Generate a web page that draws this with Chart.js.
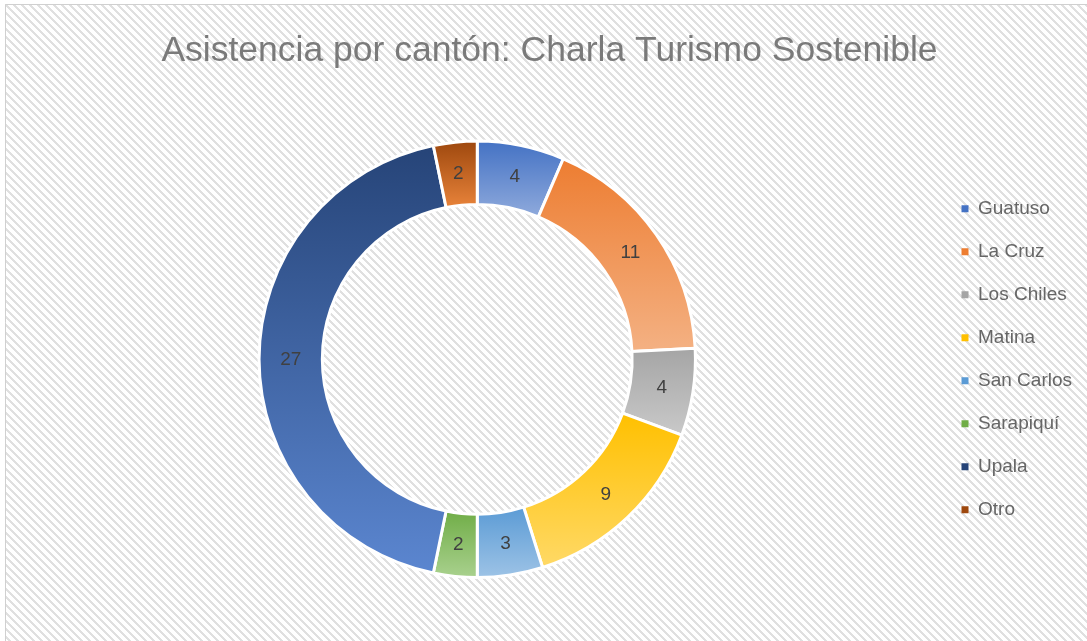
<!DOCTYPE html>
<html>
<head>
<meta charset="utf-8">
<title>Asistencia por cantón</title>
<script src="https://cdn.jsdelivr.net/npm/chart.js@4"></script>
<style>
  html, body { margin: 0; padding: 0; background: #fff; }
  #wrap { width: 1087px; height: 641px; position: relative; }
</style>
</head>
<body>
<div id="wrap"><canvas id="donut"></canvas></div>
<script>
// data
const cantones = ['Guatuso', 'La Cruz', 'Los Chiles', 'Matina', 'San Carlos', 'Sarapiquí', 'Upala', 'Otro'];
const asistentes = [4, 11, 4, 9, 3, 2, 27, 2];

// base colour (top of each slice) and the lighter one it fades to (bottom)
const baseColors = ['#4472C4', '#ED7D31', '#A5A5A5', '#FFC000', '#5B9BD5', '#70AD47', '#264478', '#9E480E'];
const lightColors = ['#8FAADC', '#F4B183', '#C9C9C9', '#FFD966', '#9DC3E6', '#A9D18E', '#5B86D0', '#E8833A'];

const FONT = "'Liberation Sans', Arial, sans-serif";

// hatched background + thin frame like the excel chart area
const hatchBackground = {
    id: 'hatchBackground',
    beforeDraw(chart) {
        const ctx = chart.ctx;
        const pat = document.createElement('canvas');
        pat.width = 8; pat.height = 8;
        const pctx = pat.getContext('2d');
        pctx.fillStyle = '#ffffff';
        pctx.fillRect(0, 0, 8, 8);
        pctx.fillStyle = '#e0e0e0';
        for (let y = 0; y < 8; y++) {
            for (let x = 0; x < 8; x++) {
                const d = ((x - y) % 8 + 8) % 8;
                if (d < 3) pctx.fillRect(x, y, 1, 1);
            }
        }
        ctx.save();
        ctx.fillStyle = '#ffffff';
        ctx.fillRect(0, 0, chart.width, chart.height);
        ctx.fillStyle = ctx.createPattern(pat, 'repeat');
        ctx.fillRect(5, 4, chart.width - 5, chart.height - 4);
        ctx.strokeStyle = '#d0d0d0';
        ctx.lineWidth = 1;
        ctx.beginPath();
        ctx.moveTo(5.5, chart.height);
        ctx.lineTo(5.5, 4.5);
        ctx.lineTo(chart.width, 4.5);
        ctx.stroke();
        ctx.restore();
    }
};

// each slice gets its own vertical gradient over its own height
const sliceGradients = {
    id: 'sliceGradients',
    beforeDatasetsDraw(chart) {
        const ctx = chart.ctx;
        const meta = chart.getDatasetMeta(0);
        meta.data.forEach((arc, i) => {
            const p = arc.getProps(['x', 'y', 'startAngle', 'endAngle', 'innerRadius', 'outerRadius']);
            let ymin = Infinity, ymax = -Infinity;
            const steps = 60;
            for (let s = 0; s <= steps; s++) {
                const a = p.startAngle + (p.endAngle - p.startAngle) * s / steps;
                [p.innerRadius, p.outerRadius].forEach(r => {
                    const yy = p.y + r * Math.sin(a);
                    ymin = Math.min(ymin, yy);
                    ymax = Math.max(ymax, yy);
                });
            }
            const g = ctx.createLinearGradient(0, ymin, 0, ymax);
            g.addColorStop(0, baseColors[i]);
            g.addColorStop(1, lightColors[i]);
            arc.options.backgroundColor = g;
        });
    }
};

// value labels in the middle of the ring
const valueLabels = {
    id: 'valueLabels',
    afterDatasetsDraw(chart) {
        const ctx = chart.ctx;
        const meta = chart.getDatasetMeta(0);
        ctx.save();
        ctx.font = '19px ' + FONT;
        ctx.fillStyle = '#404040';
        ctx.textAlign = 'center';
        ctx.textBaseline = 'middle';
        meta.data.forEach((arc, i) => {
            const pos = arc.tooltipPosition();
            ctx.fillText(String(asistentes[i]), pos.x, pos.y);
        });
        ctx.restore();
    }
};

new Chart(document.getElementById('donut').getContext('2d'), {
    type: 'doughnut',
    data: {
        labels: cantones,
        datasets: [{
            data: asistentes,
            backgroundColor: baseColors,
            borderColor: '#ffffff',
            borderWidth: 3
        }]
    },
    options: {
        responsive: true,
        maintainAspectRatio: false,
        animation: false,
        cutout: '71%',
        layout: { padding: { left: 17, right: 5, top: 0, bottom: 62 } },
        plugins: {
            tooltip: { enabled: false },
            title: {
                display: true,
                text: 'Asistencia por cantón: Charla Turismo Sostenible',
                color: '#7a7a7a',
                font: { family: FONT, size: 35.5, weight: 'normal' },
                padding: { top: 30, bottom: 67 }
            },
            legend: {
                position: 'right',
                align: 'start',
                // empty title only used to push the column of items down
                title: {
                    display: true,
                    text: ' ',
                    font: { size: 1 },
                    padding: { top: 0, bottom: 174 }
                },
                labels: {
                    boxWidth: 7,
                    boxHeight: 7,
                    padding: 24,
                    color: '#595959',
                    font: { family: FONT, size: 19 },
                    generateLabels: chart => cantones.map((name, i) => ({
                        text: name,
                        fillStyle: baseColors[i],
                        strokeStyle: baseColors[i],
                        lineWidth: 0,
                        hidden: false,
                        index: i
                    }))
                }
            }
        }
    },
    plugins: [hatchBackground, sliceGradients, valueLabels]
});
</script>
</body>
</html>
